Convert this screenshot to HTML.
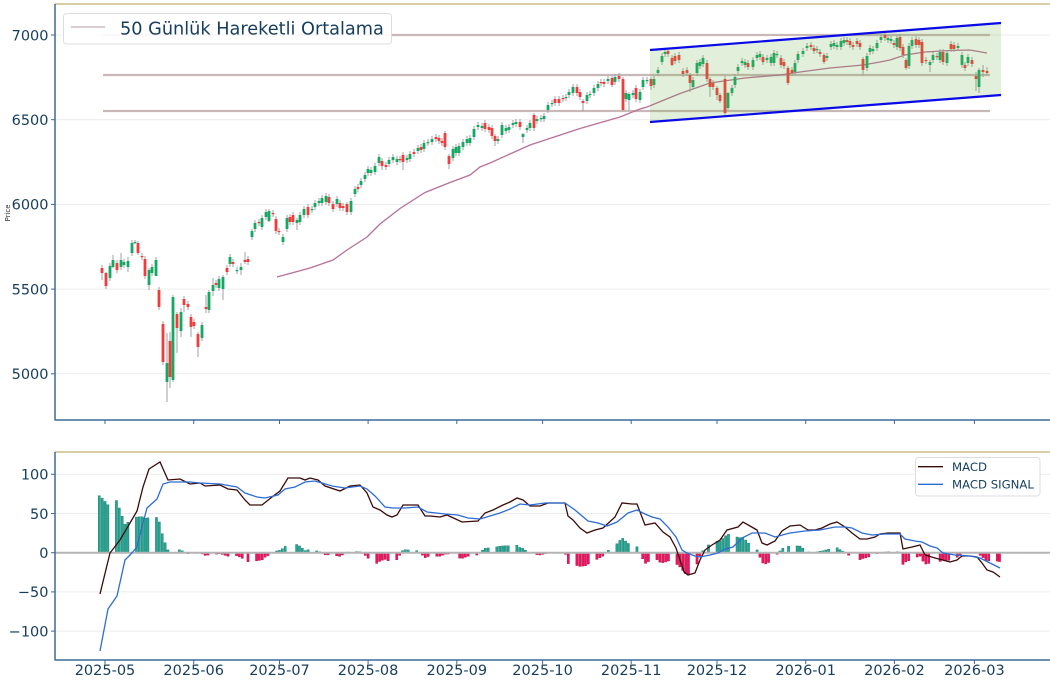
<!DOCTYPE html>
<html><head><meta charset="utf-8">
<style>
html,body{margin:0;padding:0;background:#fff;}
svg{display:block;font-family:"DejaVu Sans","Liberation Sans",sans-serif;}
</style></head>
<body>
<svg id="chart" width="1050" height="683" viewBox="0 0 1050 683" xmlns="http://www.w3.org/2000/svg">
<rect width="1050" height="683" fill="#ffffff"/>

<!-- ===== TOP PANEL ===== -->
<g stroke="#ececec" stroke-width="1">
  <line x1="55" x2="1050" y1="35" y2="35"/>
  <line x1="55" x2="1050" y1="119.7" y2="119.7"/>
  <line x1="55" x2="1050" y1="204.4" y2="204.4"/>
  <line x1="55" x2="1050" y1="289.1" y2="289.1"/>
  <line x1="55" x2="1050" y1="373.8" y2="373.8"/>
</g>

<g stroke="#c9b8b8" stroke-width="2.2">
  <line x1="103" x2="990" y1="35" y2="35"/>
  <line x1="103" x2="990" y1="75" y2="75"/>
  <line x1="103" x2="990" y1="111" y2="111"/>
</g>

<polyline fill="none" stroke="#b8709a" stroke-width="1.3" points="277,277 310,268 333,260 347,250 367,237 380,224 400,208.5 425,192.5 450,182.5 470,175 480,167 490,163 530,145 580,128.5 620,117 640,109 647,107 680,93.5 710,83 745,78 780,75 800,72 830,68 863,65 880,62 890,60 905,55 925,52 950,50.5 970,50 987,53"/>

<g id="candles"></g>

<polygon points="650,50 1001,23 1001,95 650,122" fill="#70ad47" fill-opacity="0.2"/>
<line x1="650" y1="50" x2="1001" y2="23" stroke="#0a0ae8" stroke-width="2.2"/>
<line x1="650" y1="122" x2="1001" y2="95" stroke="#0a0ae8" stroke-width="2.2"/>

<!-- spines top -->
<line x1="55" x2="1050" y1="4" y2="4" stroke="#d8cca8" stroke-width="2"/>
<line x1="55" x2="55" y1="4" y2="420.5" stroke="#3b6a9a" stroke-width="1.5"/>
<line x1="55" x2="1050" y1="420" y2="420" stroke="#3b6a9a" stroke-width="1.5"/>

<g stroke="#3b6a9a" stroke-width="1">
  <line x1="51" x2="55" y1="35" y2="35"/>
  <line x1="51" x2="55" y1="119.7" y2="119.7"/>
  <line x1="51" x2="55" y1="204.4" y2="204.4"/>
  <line x1="51" x2="55" y1="289.1" y2="289.1"/>
  <line x1="51" x2="55" y1="373.8" y2="373.8"/>
</g>
<g id="xticksTop" stroke="#3b6a9a" stroke-width="1"></g>

<g fill="#163d5e" font-size="14.5" text-anchor="end">
  <text x="48.5" y="40.3">7000</text>
  <text x="48.5" y="125">6500</text>
  <text x="48.5" y="209.7">6000</text>
  <text x="48.5" y="294.4">5500</text>
  <text x="48.5" y="379.1">5000</text>
</g>
<text x="0" y="0" font-size="7" fill="#333" text-anchor="middle" transform="translate(10,213) rotate(-90)">Price</text>

<!-- top legend -->
<rect x="63.5" y="13.5" width="328" height="30.5" rx="3" ry="3" fill="#ffffff" fill-opacity="0.9" stroke="#dddddd" stroke-width="1"/>
<line x1="71" x2="105" y1="27" y2="27" stroke="#c4b0b4" stroke-width="1.3"/>
<text x="120" y="34.5" font-size="17.7" fill="#163d5e">50 Günlük Hareketli Ortalama</text>

<!-- ===== MACD PANEL ===== -->
<g stroke="#ececec" stroke-width="1">
  <line x1="55" x2="1050" y1="474.3" y2="474.3"/>
  <line x1="55" x2="1050" y1="513.5" y2="513.5"/>
  <line x1="55" x2="1050" y1="591.9" y2="591.9"/>
  <line x1="55" x2="1050" y1="631.1" y2="631.1"/>
</g>

<g id="hist"></g>
<line x1="55" x2="1050" y1="552.7" y2="552.7" stroke="#b5b5b5" stroke-width="2"/>

<polyline id="macd" fill="none" stroke="#3b0a0a" stroke-width="1.3"/>
<polyline id="sig" fill="none" stroke="#2d6cd4" stroke-width="1.3"/>

<line x1="55" x2="1050" y1="452" y2="452" stroke="#d8cca8" stroke-width="2"/>
<line x1="55" x2="55" y1="452" y2="660.5" stroke="#3b6a9a" stroke-width="1.5"/>
<line x1="55" x2="1050" y1="660" y2="660" stroke="#3b6a9a" stroke-width="1.5"/>

<g stroke="#3b6a9a" stroke-width="1">
  <line x1="51" x2="55" y1="474.3" y2="474.3"/>
  <line x1="51" x2="55" y1="513.5" y2="513.5"/>
  <line x1="51" x2="55" y1="552.7" y2="552.7"/>
  <line x1="51" x2="55" y1="591.9" y2="591.9"/>
  <line x1="51" x2="55" y1="631.1" y2="631.1"/>
</g>
<g id="xticksBot" stroke="#3b6a9a" stroke-width="1"></g>

<g fill="#163d5e" font-size="14.5" text-anchor="end">
  <text x="48.5" y="479.6">100</text>
  <text x="48.5" y="518.8">50</text>
  <text x="48.5" y="558">0</text>
  <text x="48.5" y="597.2">−50</text>
  <text x="48.5" y="636.4">−100</text>
</g>

<g fill="#163d5e" font-size="14.5" text-anchor="middle">
  <text x="105" y="675">2025-05</text>
  <text x="193.7" y="675">2025-06</text>
  <text x="279.5" y="675">2025-07</text>
  <text x="368.1" y="675">2025-08</text>
  <text x="456.8" y="675">2025-09</text>
  <text x="542.6" y="675">2025-10</text>
  <text x="631.2" y="675">2025-11</text>
  <text x="717" y="675">2025-12</text>
  <text x="805.7" y="675">2026-01</text>
  <text x="894.4" y="675">2026-02</text>
  <text x="974.4" y="675">2026-03</text>
</g>

<!-- MACD legend -->
<rect x="915.5" y="457.5" width="124.5" height="38.5" rx="3" ry="3" fill="#ffffff" fill-opacity="0.9" stroke="#dddddd" stroke-width="1"/>
<line x1="918" x2="943" y1="466.7" y2="466.7" stroke="#3b0a0a" stroke-width="1.3"/>
<line x1="918" x2="943" y1="484.3" y2="484.3" stroke="#2d6cd4" stroke-width="1.3"/>
<text x="952" y="470.8" font-size="11.7" fill="#163d5e">MACD</text>
<text x="952" y="488.4" font-size="11.7" fill="#163d5e">MACD SIGNAL</text>
</svg>

<script>
(function(){
var NS="http://www.w3.org/2000/svg";
function el(tag,attrs,parent){var e=document.createElementNS(NS,tag);for(var k in attrs)e.setAttribute(k,attrs[k]);parent.appendChild(e);return e;}

var C=[[102,268,273,265,280],[106,273,286,272,289],[110,278,266],[113,267,260,255,268],[117,263,270],[121,267,260,253,270],[124,265,262],[128,267,261,257,272],[132,253,243],[135,243,242,240,244],[138,243,253,241,255],[142,256,257],[145,259,276],[149,285,270,268,290],[152,273,267],[156,276,260,257,276],[159,290,307],[163,324,362],[167,382,363,333,402],[170,341,377,332,388],[173,380,297,295,382],[177,314,328,312,353],[181,331,312,308,337],[184,299,305,296,312],[188,304,307],[191,317,327,314,337],[194,322,326],[198,334,347,332,357],[202,338,325],[206,307,309,295,313],[209,310,292,290,313],[213,291,285,278,296],[216,283,285],[219,288,279],[223,289,277,275,300],[227,268,272],[230,264,257],[233,262,264],[237,271,270],[241,270,267,263,275],[245,260,262,252,264],[248,259,262],
[252,237,231,229,240],[255,229,223],[259,222,223],[262,227,218],[266,217,212],[269,221,211,209,222],[273,213,214],[276,219,231],[279,231,232,228,235],[283,242,237],[287,229,218],[290,217,222],[293,215,222],[297,223,220,218,230],[300,222,215],[304,215,209],[308,207,215],[312,210,209],[315,207,203],[319,203,201],[322,203,198],[326,202,196],[329,197,203],[333,204,209],[337,204,199],[340,203,208],[343,206,208],[347,204,212,202,215],[351,212,201],[355,194,189],[358,187,189],[361,185,181],[365,179,175],[368,173,169],[371,173,170],[375,172,166],[379,163,157],[382,161,166,158,170],[386,165,167],[389,164,160],[393,160,157],[397,162,159],[400,159,160],[403,155,162,152,170],[407,160,158],[410,159,154],[414,152,154],[418,151,148],[421,147,150],[424,149,143],[428,143,142],[432,142,139],[436,137,139],[439,138,141],[442,141,143],[445,133,147,131,150],[449,156,164,154,169],[453,158,149],[456,153,147],[459,153,146],[463,147,142],[467,143,139],[470,143,138],[474,137,129],[478,127,125],[482,128,126],[485,123,129],[489,127,130],[492,128,136],[495,136,141,134,146],[498,141,139],[502,135,125],[506,131,128],[509,130,127],[513,125,123],[516,124,122],[520,122,127],[523,137,134,133,143],[527,130,128],[530,128,123],[534,115,128,113,131],[537,121,119],[541,119,118],[544,119,116],[548,110,105],[552,104,103],[555,99,103],[559,99,103],[563,98,99],[566,98,97],[569,95,92],[573,93,87],[577,87,93],[580,92,97],[583,101,103,99,111],[587,101,95],[590,95,94],[594,93,88],[598,88,84],[601,82,83],[604,82,84],[608,81,79],[612,78,85,76,87],[615,82,77],[619,76,79],[623,79,110,77,111],[626,99,93],[629,100,94,92,110],[633,95,93],[636,88,99],[640,100,92],[643,87,80],[647,81,80],[651,79,86,77,90],[654,85,79],[658,73,70],[662,62,56],[665,54,52],[668,51,54],[672,58,65,55,66],[675,56,61],[679,55,60],[683,71,74],[687,70,73],[690,75,83,73,92],[693,87,80],[697,73,63],[700,66,62],[703,64,58],[707,63,79],[710,79,87,77,97],[713,83,87],[717,88,95,86,100],[720,95,101,93,103],[725,79,113,76,115],[728,108,93,92,110],[732,93,88],[735,85,77],[738,71,67],[742,63,61],[745,65,62],[748,63,67],[753,67,60],[757,58,55],[760,57,54],[763,57,62],[767,60,58],[771,63,57],[774,63,53],[777,55,54],[781,58,65],[784,62,66],[788,68,83,66,85],[792,70,73],[795,72,63],[798,60,54],[803,54,51],[807,48,46],[811,45,47],[814,48,51],[817,50,49],[820,52,54],[824,55,62,53,64],[827,58,56],[831,47,44],[834,46,43],[837,47,45],[841,47,41],[844,43,40],[847,40,42],[850,41,45],[853,45,47],[857,41,44],[860,43,47],[863,59,70,57,75],[867,68,56],[870,52,48],[873,51,49],[877,48,43],[881,40,37],[885,35,38],[888,40,38],[891,41,39],[894,43,45],[897,47,38],[900,37,48],[903,47,55],[906,60,68,58,70],[909,66,46],[912,46,40],[916,39,45],[919,40,45],[922,42,63],[926,60,61],[930,65,62,60,72],[933,60,55],[937,56,57],[940,60,52],[943,52,62],[947,63,53],[951,44,49],[954,45,49],[958,48,46],[962,65,55],[965,65,68],[968,63,57],[972,60,64,57,67],[976,76,79,72,91],[979,87,70,68,93],[983,70,72,65,77],[987,71,73,67,75]];

var cg=document.getElementById("candles");
var wicks=el("g",{stroke:"#a0a0a0","stroke-width":"1"},cg);
var bodies=el("g",{},cg);
for(var i=0;i<C.length;i++){
  var c=C[i],x=c[0],o=c[1],cl=c[2];
  var top=Math.min(o,cl),bot=Math.max(o,cl);
  var h=c.length>3?c[3]:top-3,l=c.length>4?c[4]:bot+3;
  el("line",{x1:x,x2:x,y1:h,y2:l},wicks);
  var ht=Math.max(bot-top,1.2);
  el("rect",{x:x-1.4,y:top,width:2.8,height:ht,fill:(cl<o)?"#14a862":(cl>o?"#f23b3b":"#14a862")},bodies);
}

var M=[[100,594],[110,553],[120,540],[130,523],[137,511],[143,487],[149,469],[160,462],[168,480],[180,479],[190,484],[200,483],[205,486],[220,485],[228,489],[237,490],[245,500],[250,505],[262,505],[272,497],[280,491],[288,478],[300,478],[305,480],[310,478],[318,480],[325,486],[340,491],[350,486],[360,485],[367,493],[373,507],[380,510],[387,515],[392,517],[397,515],[403,505],[410,505],[418,505],[425,516],[430,516],[440,517],[447,515],[462,522],[478,521],[485,513],[493,510],[503,505],[510,502],[517,498],[523,500],[530,506],[540,506],[548,503],[558,503],[565,503],[568,516],[573,520],[580,528],[587,533],[595,530],[603,528],[615,517],[622,503],[632,504],[637,504],[645,525],[655,523],[663,532],[670,537],[676,548],[680,560],[684,572],[688,575],[695,573],[700,560],[705,550],[712,545],[720,540],[727,530],[738,527],[743,522],[750,526],[757,530],[762,543],[767,545],[775,541],[782,531],[790,526],[800,525],[808,530],[815,530],[822,528],[830,524],[837,522],[845,527],[852,533],[860,539],[867,539],[875,537],[880,534],[888,533],[900,533],[903,549],[912,547],[920,545],[925,555],[935,558],[950,562],[957,560],[962,556],[970,556],[977,557],[982,563],[987,570],[993,572],[1000,577]];
var S=[[100,651],[108,609],[117,596],[125,560],[130,555],[137,547],[143,523],[147,508],[157,499],[163,484],[170,482],[180,482],[190,482],[200,483],[220,484],[237,487],[245,493],[257,497],[265,498],[278,495],[285,489],[295,487],[305,482],[315,481],[322,483],[332,486],[345,488],[360,486],[367,489],[375,496],[385,507],[393,508],[405,508],[418,507],[427,512],[445,514],[458,515],[468,518],[480,519],[490,516],[500,513],[510,509],[520,504],[530,505],[545,503],[565,503],[575,510],[588,521],[598,523],[607,526],[617,522],[628,513],[637,510],[645,514],[652,517],[660,519],[668,527],[676,537],[682,550],[687,553],[695,556],[700,557],[710,555],[718,553],[725,549],[733,547],[742,538],[752,533],[765,533],[775,537],[790,533],[805,531],[820,530],[835,527],[845,527],[852,528],[862,533],[872,535],[885,534],[900,534],[905,539],[915,541],[922,542],[930,546],[937,548],[943,553],[955,555],[970,556],[980,558],[990,563],[1000,568]];

function pts(a){return a.map(function(p){return p[0]+","+p[1];}).join(" ");}
document.getElementById("macd").setAttribute("points",pts(M));
document.getElementById("sig").setAttribute("points",pts(S));

function interp(a,x){
  if(x<=a[0][0])return a[0][1];
  for(var i=1;i<a.length;i++){if(x<=a[i][0]){var p=a[i-1],q=a[i];return p[1]+(q[1]-p[1])*(x-p[0])/(q[0]-p[0]);}}
  return a[a.length-1][1];
}
var hol={"2025-05-26":1,"2025-06-19":1,"2025-07-04":1,"2025-09-01":1,"2025-11-27":1,"2025-12-25":1,"2026-01-01":1,"2026-01-19":1,"2026-02-16":1};
var hg=document.getElementById("hist");
var d0=Date.UTC(2025,4,1);
for(var d=-2;d<=313;d++){
  var t=new Date(d0+d*864e5),wd=t.getUTCDay();
  if(wd===0||wd===6)continue;
  var s=t.toISOString().slice(0,10);
  if(hol[s])continue;
  var x=105+2.86*d; if(x<99)x=100; if(x>1000)x=999.5;
  var hpx=interp(M,x)-interp(S,x);
  if(Math.abs(hpx)<0.3)continue;
  var y=hpx<0?552.7+hpx:552.7;
  el("rect",{x:x-1.1,y:y,width:2.2,height:Math.abs(hpx),fill:hpx<0?"#26a694":"#ee1460",stroke:hpx<0?"#137565":"#b00a45","stroke-width":"0.4"},hg);
}

var mx=[105,193.7,279.5,368.1,456.8,542.6,631.2,717,805.7,894.4,974.4];
var tt=document.getElementById("xticksTop"),tb=document.getElementById("xticksBot");
mx.forEach(function(x){el("line",{x1:x,x2:x,y1:420,y2:424},tt);el("line",{x1:x,x2:x,y1:660,y2:664},tb);});
})();
</script>
</body></html>
